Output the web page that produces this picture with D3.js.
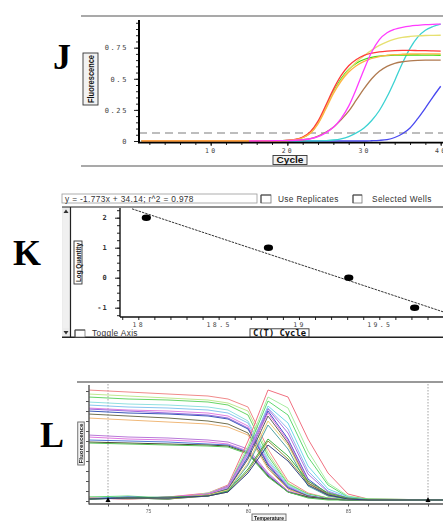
<!DOCTYPE html>
<html>
<head>
<meta charset="utf-8">
<script src="https://cdn.jsdelivr.net/npm/d3@7/dist/d3.min.js"></script>
<style>
  html, body { margin: 0; padding: 0; background: #fff; }
  svg { display: block; }
</style>
</head>
<body>
<svg id="fig" width="443" height="521" viewBox="0 0 443 521"></svg>
<script>
// ===== J: amplification curves (fluorescence per cycle) =====
const ampCycles = [1,2,3,4,5,6,7,8,9,10,11,12,13,14,15,16,17,18,19,20,
                   21,22,23,24,25,26,27,28,29,30,31,32,33,34,35,36,37,38,39,40];
const ampRed = [0,0,0,0,0,0,0,0,0,0, 0,0,0,0,0,0,0,0,0.002,0.005,
  0.013,0.032,0.075,0.16,0.285,0.415,0.525,0.605,0.655,0.688,
  0.706,0.716,0.722,0.726,0.728,0.728,0.727,0.726,0.724,0.722];
const ampGreen = [0,0,0,0,0,0,0,0,0,0, 0,0,0,0,0,0,0,0,0.002,0.004,
  0.011,0.028,0.066,0.145,0.265,0.395,0.5,0.575,0.625,0.655,
  0.672,0.682,0.687,0.69,0.691,0.691,0.691,0.69,0.69,0.689];
const ampOrange = [0,0,0,0,0,0,0,0,0,0, 0,0,0,0,0,0,0,0,0.002,0.004,
  0.01,0.026,0.062,0.138,0.255,0.38,0.48,0.555,0.605,0.64,
  0.663,0.678,0.688,0.694,0.697,0.699,0.7,0.7,0.7,0.7];
const ampYellow = [0,0,0,0,0,0,0,0,0,0, 0,0,0,0,0,0,0,0,0.002,0.004,
  0.011,0.028,0.066,0.148,0.27,0.39,0.49,0.572,0.635,0.685,
  0.73,0.768,0.797,0.818,0.832,0.84,0.845,0.848,0.849,0.85];
const ampMagenta = [null,null,null,null,null,null,null,null,null,null,
  null,null,null,null,0,0,0.001,0.002,0.003,0.004,
  0.006,0.01,0.018,0.035,0.065,0.11,0.18,0.28,0.42,0.575,
  0.715,0.815,0.87,0.898,0.914,0.924,0.93,0.935,0.938,0.94];
const ampBrown = [0,0,0,0,0,0,0,0,0,0, 0,0,0,0,0,0,0,0,0.001,0.002,
  0.005,0.01,0.02,0.04,0.07,0.11,0.17,0.24,0.33,0.42,
  0.5,0.56,0.6,0.624,0.637,0.644,0.648,0.65,0.65,0.65];
const ampCyan = [0,0,0,0,0,0,0,0,0,0, 0,0,0,0,0,0,0,0,0,0,
  0,0,0,0,0.003,0.008,0.018,0.036,0.065,0.105,
  0.165,0.245,0.355,0.485,0.625,0.745,0.835,0.89,0.92,0.94];
const ampBlue = [0,0,0,0,0,0,0,0,0,0, 0,0,0,0,0,0,0,0,0,0,
  0,0,0,0,0,0,0,0,0,0,
  0.002,0.005,0.011,0.028,0.058,0.105,0.18,0.265,0.355,0.44];
const ampThreshold = 0.064;
const ampYTicks = [0, 0.25, 0.5, 0.75];
const ampXTicks = [10, 20, 30, 40];

// ===== K: standard curve =====
const ctValues = [18.05, 18.81, 19.31, 19.72];
const logQuantity = [2, 1, 0, -1];
const fitSlope = -1.773;
const fitIntercept = 34.14;
const fitR2 = 0.978;
const stdXTicks = [18, 18.5, 19, 19.5];
const stdYTicks = [-1, 0, 1, 2];

// ===== L: melt curves =====
const meltTemps = [72, 74, 76, 78, 79, 80, 81, 82, 83, 84, 85, 86, 90];
const meltRaw = [
  [111,109,107,105,102,94,52,20,8,3,1.5,1,1],
  [107,105,103,101,98,90,48,18,7,3,1.5,1,1],
  [104,102,101,99,96,86,45,17,7,3,1.5,1,1],
  [99,97,96,94,91,80,42,16,6,2,1,1,1],
  [96,94,93,91,88,78,40,15,6,2,1,1,1],
  [93,91,90,88,85,75,38,14,5,2,1,1,1],
  [92,90,88,86,83,73,37,14,5,2,1,1,1],
  [90,88,87,85,82,72,36,13,5,2,1,1,1],
  [87,85,83,80,77,68,34,12,5,2,1,1,1],
  [83,81,79,77,74,66,32,12,4,2,1,1,1],
  [66,64,63,61,59,52,28,10,4,2,1,1,1],
  [64,62,61,59,57,50,27,10,4,2,1,1,1],
  [61,60,59,57,56,49,26,9,4,2,1,1,1],
  [59,58,57,56,55,48,25,9,4,2,1,1,1],
  [58,57,56,55,54,47,24,9,3,1,1,1,1]
];
const meltRawColors = ["#f08a8a","#c0e890","#66d466","#90e0e0","#88c4f0","#e080e0",
  "#9a6ae0","#3a58b8","#707050","#f0b878","#b878d8","#e078e0","#5078d8","#4a4a30","#58c458"];
const meltDeriv = [
  [3,2,4,8,16,60,111,104,62,28,7,2,1],
  [4,3,2,8,15,55,104,93,50,18,5,2,1],
  [4,5,3,7,14,52,100,86,44,16,4,2,1],
  [3,4,2,7,14,48,95,78,35,12,4,1,1],
  [2,3,4,6,13,45,93,72,30,10,3,1,1],
  [3,2,3,7,15,50,92,68,27,9,3,1,1],
  [2,4,3,6,12,44,90,62,22,7,2,1,1],
  [3,2,4,7,14,47,88,60,20,6,2,1,1],
  [2,3,2,6,12,42,85,58,18,6,2,1,1],
  [3,2,3,6,11,38,80,56,17,5,2,1,1],
  [2,3,2,5,10,36,76,52,15,5,2,1,1],
  [2,3,4,5,10,32,62,45,20,8,3,1,1],
  [2,3,2,5,9,30,60,42,18,7,2,1,1],
  [2,3,3,5,9,28,56,40,16,6,2,1,1]
];
const meltDerivColors = ["#f07080","#a8eca0","#60d870","#70d8e8","#90b8f0","#b070e0",
  "#4050c8","#e070d8","#606060","#e8d070","#50a0a0","#40b040","#909040","#304080"];
const meltXLabels = [75, 80, 85];
const meltMarkers = [73, 89];

const sansFont = '"Liberation Sans", Arial, sans-serif';
const monoFont = '"DejaVu Sans Mono", "Liberation Mono", monospace';
const serifFont = '"Liberation Serif", "Times New Roman", serif';

const svg = d3.select("#fig");
const defs = svg.append("defs");
defs.append("filter").attr("id", "soft")
  .append("feGaussianBlur").attr("stdDeviation", 0.45);

// Big panel letters
[["J", 53, 69], ["K", 13, 265], ["L", 40, 447]].forEach(([t, x, y]) => {
  svg.append("text").attr("x", x).attr("y", y).text(t)
    .style("font-family", serifFont).style("font-weight", "bold")
    .style("font-size", "36px").attr("fill", "#000");
});

// Boxed axis-title helper
function boxedLabel(g, cx, cy, w, h, txt, size, len, rotate, opts = {}) {
  const lg = g.append("g").attr("transform", `translate(${cx},${cy})` + (rotate ? " rotate(-90)" : ""));
  const bw = rotate ? h : w, bh = rotate ? w : h;
  lg.append("rect").attr("x", -bw / 2).attr("y", -bh / 2).attr("width", bw).attr("height", bh)
    .attr("fill", opts.fill || "#f2f2f2").attr("stroke", opts.stroke || "#333").attr("stroke-width", 0.9);
  lg.append("text").attr("x", 0).attr("y", size * 0.36).attr("text-anchor", "middle")
    .style("font-size", size + "px").style("font-weight", "bold").attr("fill", "#111")
    .style("font-family", opts.family || sansFont)
    .attr("textLength", len).attr("lengthAdjust", "spacingAndGlyphs").text(txt);
}

// ================= Panel J =================
const gJ = svg.append("g");
gJ.append("line").attr("x1", 81).attr("x2", 443).attr("y1", 16).attr("y2", 16)
  .attr("stroke", "#8c8c8c").attr("stroke-width", 1.5);
gJ.append("line").attr("x1", 81).attr("x2", 443).attr("y1", 166).attr("y2", 166)
  .attr("stroke", "#8c8c8c").attr("stroke-width", 1.5);

const jx = d3.scaleLinear().domain([0.65, 40.3]).range([139, 443]);
const jy = d3.scaleLinear().domain([0, 0.97]).range([141, 20.3]);

// minor ticks
gJ.append("g").attr("transform", "translate(139,0)")
  .call(d3.axisLeft(jy).tickValues(d3.range(0, 0.96, 0.05)).tickSize(3).tickFormat(""))
  .call(g => g.select(".domain").remove())
  .call(g => g.selectAll("line").attr("stroke", "#222"));
gJ.append("g").attr("transform", "translate(0,142)")
  .call(d3.axisBottom(jx).tickValues(d3.range(2, 41, 2)).tickSize(3).tickFormat(""))
  .call(g => g.select(".domain").remove())
  .call(g => g.selectAll("line").attr("stroke", "#222"));
// labelled ticks
gJ.append("g").attr("transform", "translate(139,0)")
  .call(d3.axisLeft(jy).tickValues(ampYTicks).tickSize(5).tickPadding(6)
    .tickFormat(d => d === 0 ? "0" : String(d)))
  .call(g => g.select(".domain").remove())
  .call(g => g.selectAll("line").attr("stroke", "#222"))
  .call(g => g.selectAll("text").attr("fill", "#444").attr("letter-spacing", 1.6)
    .style("font-size", "7px").style("font-family", monoFont));
gJ.append("g").attr("transform", "translate(0,142)")
  .call(d3.axisBottom(jx).tickValues(ampXTicks).tickSize(4).tickPadding(2))
  .call(g => g.select(".domain").remove())
  .call(g => g.selectAll("line").attr("stroke", "#222"))
  .call(g => g.selectAll("text").attr("fill", "#444").attr("letter-spacing", 2.2)
    .style("font-size", "6.5px").style("font-family", monoFont));

// threshold
gJ.append("line").attr("x1", 139).attr("x2", 443)
  .attr("y1", jy(ampThreshold)).attr("y2", jy(ampThreshold))
  .attr("stroke", "#a8a8a8").attr("stroke-width", 1.6).attr("stroke-dasharray", "8,5");

const ampSeries = [
  { values: ampBlue, color: "#4848f0" },
  { values: ampCyan, color: "#3cd2d2" },
  { values: ampBrown, color: "#b07a50" },
  { values: ampGreen, color: "#44dd10" },
  { values: ampYellow, color: "#e6e070" },
  { values: ampRed, color: "#ff3a3a" },
  { values: ampOrange, color: "#ffb444" },
  { values: ampMagenta, color: "#ff3cff" }
];
const ampLine = d3.line()
  .defined(d => d[1] !== null)
  .x(d => jx(d[0])).y(d => jy(d[1]))
  .curve(d3.curveMonotoneX);
gJ.append("g").selectAll("path").data(ampSeries).join("path")
  .attr("d", s => ampLine(ampCycles.map((c, i) => [c, s.values[i]])))
  .attr("fill", "none").attr("stroke", s => s.color).attr("stroke-width", 1.3);

// axis lines
gJ.append("line").attr("x1", 139).attr("x2", 139).attr("y1", 20).attr("y2", 143)
  .attr("stroke", "#000").attr("stroke-width", 2);
gJ.append("line").attr("x1", 138).attr("x2", 443).attr("y1", 142.6).attr("y2", 142.6)
  .attr("stroke", "#000").attr("stroke-width", 1.6);

boxedLabel(gJ, 90.5, 79, 15, 52, "Fluorescence", 9.5, 48, true);
boxedLabel(gJ, 290, 160, 34, 9, "Cycle", 8.5, 27, false);

// ================= Panel K =================
const gK = svg.append("g");
function uiText(x, y, txt) {
  gK.append("text").attr("x", x).attr("y", y).attr("fill", "#333")
    .style("font-size", "8.3px").style("font-family", sansFont).attr("letter-spacing", 0.35)
    .text(txt);
}
// header row
gK.append("rect").attr("x", 62).attr("y", 194).attr("width", 195).attr("height", 9)
  .attr("fill", "#fff").attr("stroke", "#9a9a9a").attr("stroke-width", 0.8);
uiText(65, 201.6, `y = ${fitSlope}x + ${fitIntercept}; r^2 = ${fitR2}`);
function checkBox(x, y, w, h) {
  gK.append("rect").attr("x", x).attr("y", y).attr("width", w).attr("height", h)
    .attr("fill", "#fff").attr("stroke", "#777").attr("stroke-width", 0.8);
  gK.append("path").attr("d", `M${x},${y + h}V${y}H${x + w}`)
    .attr("fill", "none").attr("stroke", "#444").attr("stroke-width", 1);
}
checkBox(261, 195, 10, 8);
uiText(278, 201.8, "Use Replicates");
checkBox(353, 195, 9, 8);
uiText(372, 201.8, "Selected Wells");

// frame + scrollbar
gK.append("rect").attr("x", 62).attr("y", 207).attr("width", 8).attr("height", 130)
  .attr("fill", "#ececec");
[64, 66, 68].forEach(x => gK.append("line").attr("x1", x).attr("x2", x).attr("y1", 214).attr("y2", 328)
  .attr("stroke", "#f8f8f8").attr("stroke-width", 0.8));
gK.append("path").attr("d", "M63.5,213 L66,209.5 L68.5,213 Z").attr("fill", "#333");
gK.append("path").attr("d", "M63.5,331 L66,334.5 L68.5,331 Z").attr("fill", "#333");
gK.append("line").attr("x1", 62).attr("x2", 443).attr("y1", 207).attr("y2", 207)
  .attr("stroke", "#222").attr("stroke-width", 1.2);
gK.append("line").attr("x1", 62).attr("x2", 443).attr("y1", 337.3).attr("y2", 337.3)
  .attr("stroke", "#222").attr("stroke-width", 1.4);
gK.append("line").attr("x1", 70.5).attr("x2", 70.5).attr("y1", 207).attr("y2", 337)
  .attr("stroke", "#222").attr("stroke-width", 1.2);

const kx = d3.scaleLinear().domain([18, 19.5]).range([138.3, 379.3]);
const ky = d3.scaleLinear().domain([-1, 2]).range([307.7, 217.7]);
const kLeft = 120, kBottom = 317;

gK.append("g").attr("transform", `translate(${kLeft},0)`)
  .call(d3.axisLeft(ky).tickValues(d3.range(-1.25, 2.3, 0.25)).tickSize(3).tickFormat(""))
  .call(g => g.select(".domain").remove())
  .call(g => g.selectAll("line").attr("stroke", "#222"));
gK.append("g").attr("transform", `translate(${kLeft},0)`)
  .call(d3.axisLeft(ky).tickValues(stdYTicks).tickSize(5).tickPadding(7)
    .tickFormat(d => d < 0 ? "-" + Math.abs(d) : String(d)))
  .call(g => g.select(".domain").remove())
  .call(g => g.selectAll("line").attr("stroke", "#222"))
  .call(g => g.selectAll("text").attr("fill", "#333").attr("letter-spacing", 1.2)
    .style("font-size", "7px").style("font-weight", "bold").style("font-family", monoFont));
gK.append("g").attr("transform", `translate(0,${kBottom})`)
  .call(d3.axisBottom(kx).tickValues(d3.range(17.9, 20.0, 0.1)).tickSize(3).tickFormat(""))
  .call(g => g.select(".domain").remove())
  .call(g => g.selectAll("line").attr("stroke", "#222"));
gK.append("g").attr("transform", `translate(0,${kBottom})`)
  .call(d3.axisBottom(kx).tickValues(stdXTicks).tickSize(0).tickPadding(5).tickFormat(d => String(d)))
  .call(g => g.select(".domain").remove())
  .call(g => g.selectAll("text").attr("fill", "#444").attr("letter-spacing", 2.4)
    .style("font-size", "6.5px").style("font-family", monoFont));

// regression line from the fitted equation
const fitX = kx.invert(kLeft + 12);
const fitX2 = kx.invert(445);
gK.append("line")
  .attr("x1", kx(fitX)).attr("y1", ky(fitSlope * fitX + fitIntercept))
  .attr("x2", kx(fitX2)).attr("y2", ky(fitSlope * fitX2 + fitIntercept))
  .attr("stroke", "#333").attr("stroke-width", 1).attr("stroke-dasharray", "2.5,1");
gK.append("g").selectAll("ellipse").data(ctValues).join("ellipse")
  .attr("cx", d => kx(d)).attr("cy", (d, i) => ky(logQuantity[i]))
  .attr("rx", 4.6).attr("ry", 3.2).attr("fill", "#000");

gK.append("line").attr("x1", kLeft).attr("x2", kLeft).attr("y1", 208).attr("y2", kBottom)
  .attr("stroke", "#111").attr("stroke-width", 1.4);
gK.append("line").attr("x1", kLeft).attr("x2", 443).attr("y1", kBottom).attr("y2", kBottom)
  .attr("stroke", "#111").attr("stroke-width", 1.4);

boxedLabel(gK, 78, 262.5, 8, 43, "Log Quantity", 7.5, 39, true, { fill: "#fff" });
boxedLabel(gK, 279.5, 332.8, 59, 8, "C(T) Cycle", 8, 53, false, { fill: "#fff", family: monoFont });
checkBox(75, 330, 10, 7);
uiText(92, 336.3, "Toggle Axis");

// ================= Panel L =================
const gL = svg.append("g");
gL.append("line").attr("x1", 77).attr("x2", 443).attr("y1", 382).attr("y2", 382)
  .attr("stroke", "#777").attr("stroke-width", 1.3);

const lx = d3.scaleLinear().domain([75, 85]).range([148, 348]);
const ly = d3.scaleLinear().domain([0, 100]).range([501, 401]);

const plotL = gL.append("g").attr("filter", "url(#soft)");
plotL.append("defs").append("clipPath").attr("id", "clipL")
  .append("rect").attr("x", 89).attr("y", 384).attr("width", 360).attr("height", 121);

// marker lines
meltMarkers.forEach(t => {
  plotL.append("line").attr("x1", lx(t)).attr("x2", lx(t)).attr("y1", 384).attr("y2", 503)
    .attr("stroke", "#999").attr("stroke-width", 0.9).attr("stroke-dasharray", "1.5,1.5");
});

const meltLine = d3.line().x((d, i) => lx(meltTemps[i])).y(d => ly(d));
const curves = plotL.append("g").attr("clip-path", "url(#clipL)");
curves.selectAll("path.raw").data(meltRaw).join("path").attr("class", "raw")
  .attr("d", meltLine).attr("fill", "none")
  .attr("stroke", (d, i) => meltRawColors[i]).attr("stroke-width", 1);
curves.selectAll("path.der").data(meltDeriv).join("path").attr("class", "der")
  .attr("d", meltLine).attr("fill", "none")
  .attr("stroke", (d, i) => meltDerivColors[i]).attr("stroke-width", 1);

meltMarkers.forEach(t => {
  plotL.append("path").attr("d", `M${lx(t) - 2.5},502 L${lx(t)},497 L${lx(t) + 2.5},502 Z`)
    .attr("fill", "#000");
});

// axes
const lyAxis = d3.scaleLinear().domain([-3, 116]).range([504, 385]);
plotL.append("g").attr("transform", "translate(89,0)")
  .call(d3.axisLeft(lyAxis).tickValues(d3.range(0, 116, 10)).tickSize(3).tickFormat(""))
  .call(g => g.select(".domain").remove())
  .call(g => g.selectAll("line").attr("stroke", "#555"));
plotL.append("g").attr("transform", "translate(0,504)")
  .call(d3.axisBottom(lx).tickValues(d3.range(73, 90, 1)).tickSize(2.5)
    .tickFormat(d => meltXLabels.includes(d) ? String(d) : ""))
  .call(g => g.select(".domain").remove())
  .call(g => g.selectAll("line").attr("stroke", "#555"))
  .call(g => g.selectAll("text").attr("fill", "#666").style("font-size", "5px").style("font-family", sansFont));
plotL.append("line").attr("x1", 89).attr("x2", 89).attr("y1", 385).attr("y2", 504.5)
  .attr("stroke", "#555").attr("stroke-width", 1.4);
plotL.append("line").attr("x1", 89).attr("x2", 443).attr("y1", 504).attr("y2", 504)
  .attr("stroke", "#555").attr("stroke-width", 1.4);

boxedLabel(plotL, 81, 443.5, 6.5, 43, "Fluorescence", 5.5, 40, true, { stroke: "#666", fill: "#f4f4f4" });
boxedLabel(plotL, 269, 517.5, 34, 7, "Temperature", 5.8, 30, false, { stroke: "#666", fill: "#f4f4f4" });
</script>
</body>
</html>
